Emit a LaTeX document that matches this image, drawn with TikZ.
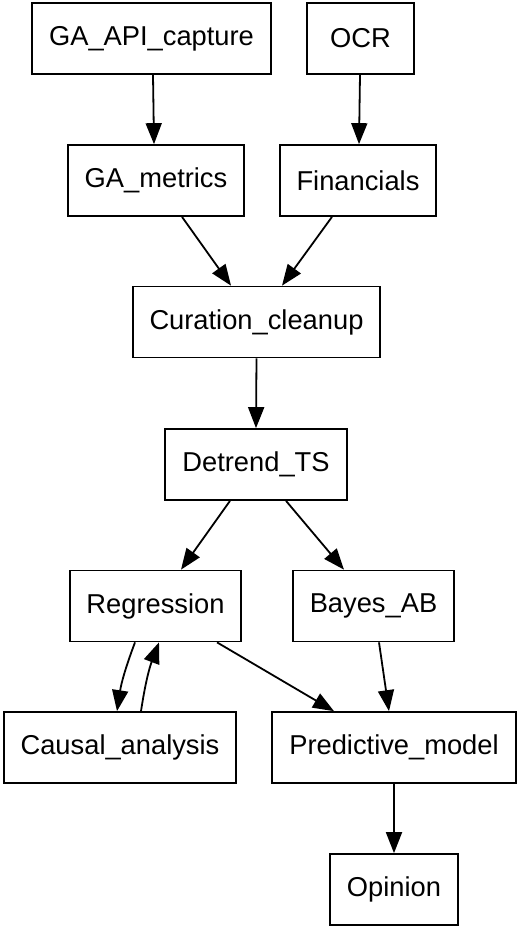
\documentclass[tikz,border=0pt]{standalone}
\usepackage{fontspec}
\setmainfont{Liberation Sans}
\usetikzlibrary{arrows.meta}
\begin{document}
\begin{tikzpicture}[x=1pt,y=-1pt,
  box/.style={draw=black,line width=1.7pt,rectangle,minimum height=71pt,inner sep=0pt,font=\fontsize{27.3}{30}\selectfont},
  edge/.style={draw=black,line width=1.8pt,-{Triangle[length=21pt,width=16pt]}}]
\useasboundingbox (0,0) rectangle (520,929);
\node[box,minimum width=239pt] (ga)  at (151.5,38.5) {GA\_API\_capture};
\node[box,minimum width=107pt] (ocr) at (360.5,38.5) {OCR};
\node[box,minimum width=176pt] (gam) at (156,180.5) {GA\_metrics};
\node[box,minimum width=156pt] (fin) at (358,180.5) {Financials};
\node[box,minimum width=247pt] (cur) at (256.5,322) {Curation\_cleanup};
\node[box,minimum width=182pt] (det) at (256,464.5) {Detrend\_TS};
\node[box,minimum width=171pt] (reg) at (155.5,606) {Regression};
\node[box,minimum width=161pt] (bay) at (373.5,606) {Bayes\_AB};
\node[box,minimum width=232pt] (cau) at (120,747.5) {Causal\_analysis};
\node[box,minimum width=244pt] (pre) at (394,747.5) {Predictive\_model};
\node[box,minimum width=128pt] (opi) at (394,889.5) {Opinion};
\draw[edge] ([xshift=1.5pt]ga.south) -- ([xshift=-2pt]gam.north);
\draw[edge] ([xshift=-0.5pt]ocr.south) -- ([xshift=1pt]fin.north);
\draw[edge] ([xshift=26pt]gam.south) -- ([xshift=-25.5pt]cur.north);
\draw[edge] ([xshift=-26pt]fin.south) -- ([xshift=25.5pt]cur.north);
\draw[edge] (cur.south) -- (det.north);
\draw[edge] ([xshift=-26pt]det.south) -- ([xshift=25.5pt]reg.north);
\draw[edge] ([xshift=30pt]det.south) -- ([xshift=-29.5pt]bay.north);
\draw[edge] ([xshift=-20.5pt]reg.south) to[bend right=6] ([xshift=-3pt]cau.north);
\draw[edge] ([xshift=21pt]cau.north) to[bend left=6] ([xshift=3.5pt]reg.south);
\draw[edge] ([xshift=61.5pt]reg.south) -- ([xshift=-60pt]pre.north);
\draw[edge] ([xshift=5.5pt]bay.south) -- ([xshift=-5pt]pre.north);
\draw[edge] (pre.south) -- (opi.north);
\end{tikzpicture}
\end{document}
